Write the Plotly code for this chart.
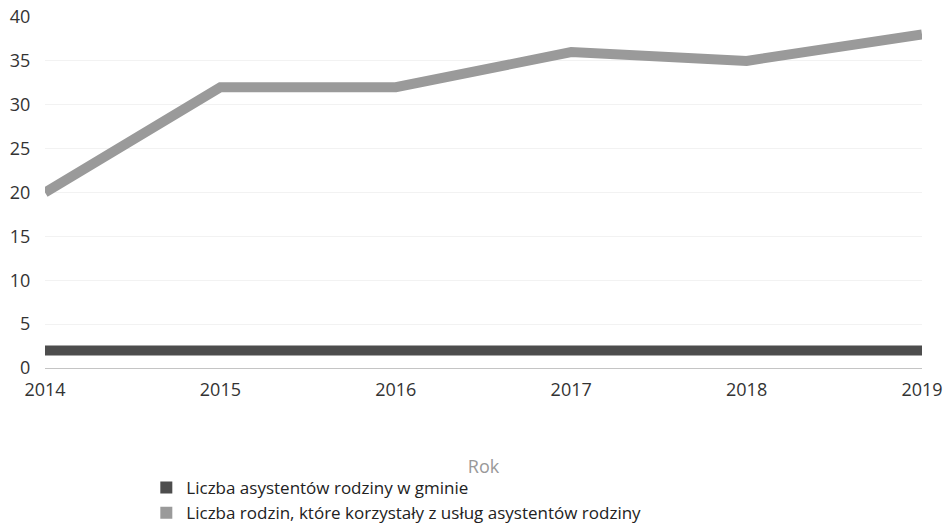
import plotly.graph_objects as go

years = ["2014", "2015", "2016", "2017", "2018", "2019"]
asystenci = [2, 2, 2, 2, 2, 2]
rodziny = [20, 32, 32, 36, 35, 38]
names = ["Liczba asystentów rodziny w gminie",
         "Liczba rodzin, które korzystały z usług asystentów rodziny"]
colors = ["#4d4d4d", "#9a9a9a"]

fig = go.Figure()
for vals, name, col in zip([asystenci, rodziny], names, colors):
    fig.add_trace(go.Scatter(x=years, y=vals, mode="lines", name=name,
                             line=dict(color=col, width=10), showlegend=False))
    fig.add_trace(go.Scatter(x=[None], y=[None], mode="markers", name=name,
                             marker=dict(symbol="square", size=12, color=col)))

fig.update_layout(
    width=944, height=524,
    margin=dict(l=45, r=22, t=17, b=156, autoexpand=False),
    paper_bgcolor="white", plot_bgcolor="white",
    font=dict(family="Open Sans", size=17, color="#333"),
    showlegend=True,
    legend=dict(x=0.155, y=0.103, xref="container", yref="container",
                xanchor="left", yanchor="top",
                orientation="v", font=dict(size=17, color="#222"),
                itemwidth=30, tracegroupgap=0),
    xaxis=dict(type="category", range=[0, 5], showgrid=False,
               ticks="outside", ticklen=5, tickcolor="white",
               tickfont=dict(size=18, color="#333"),
               title=dict(text="Rok", font=dict(size=18, color="#999"), standoff=60),
               showline=False, zeroline=False, automargin=False),
    yaxis=dict(range=[0, 40], dtick=5, showgrid=True, gridcolor="#f2f2f2",
               zeroline=True, zerolinecolor="#c4c4c4", zerolinewidth=1,
               ticks="outside", ticklen=10, tickcolor="white",
               tickfont=dict(size=18, color="#333"), automargin=False),
)

fig.write_html("out.html", config={"displayModeBar": False},
               post_script="document.body.style.margin='0';document.body.style.overflow='hidden';")
